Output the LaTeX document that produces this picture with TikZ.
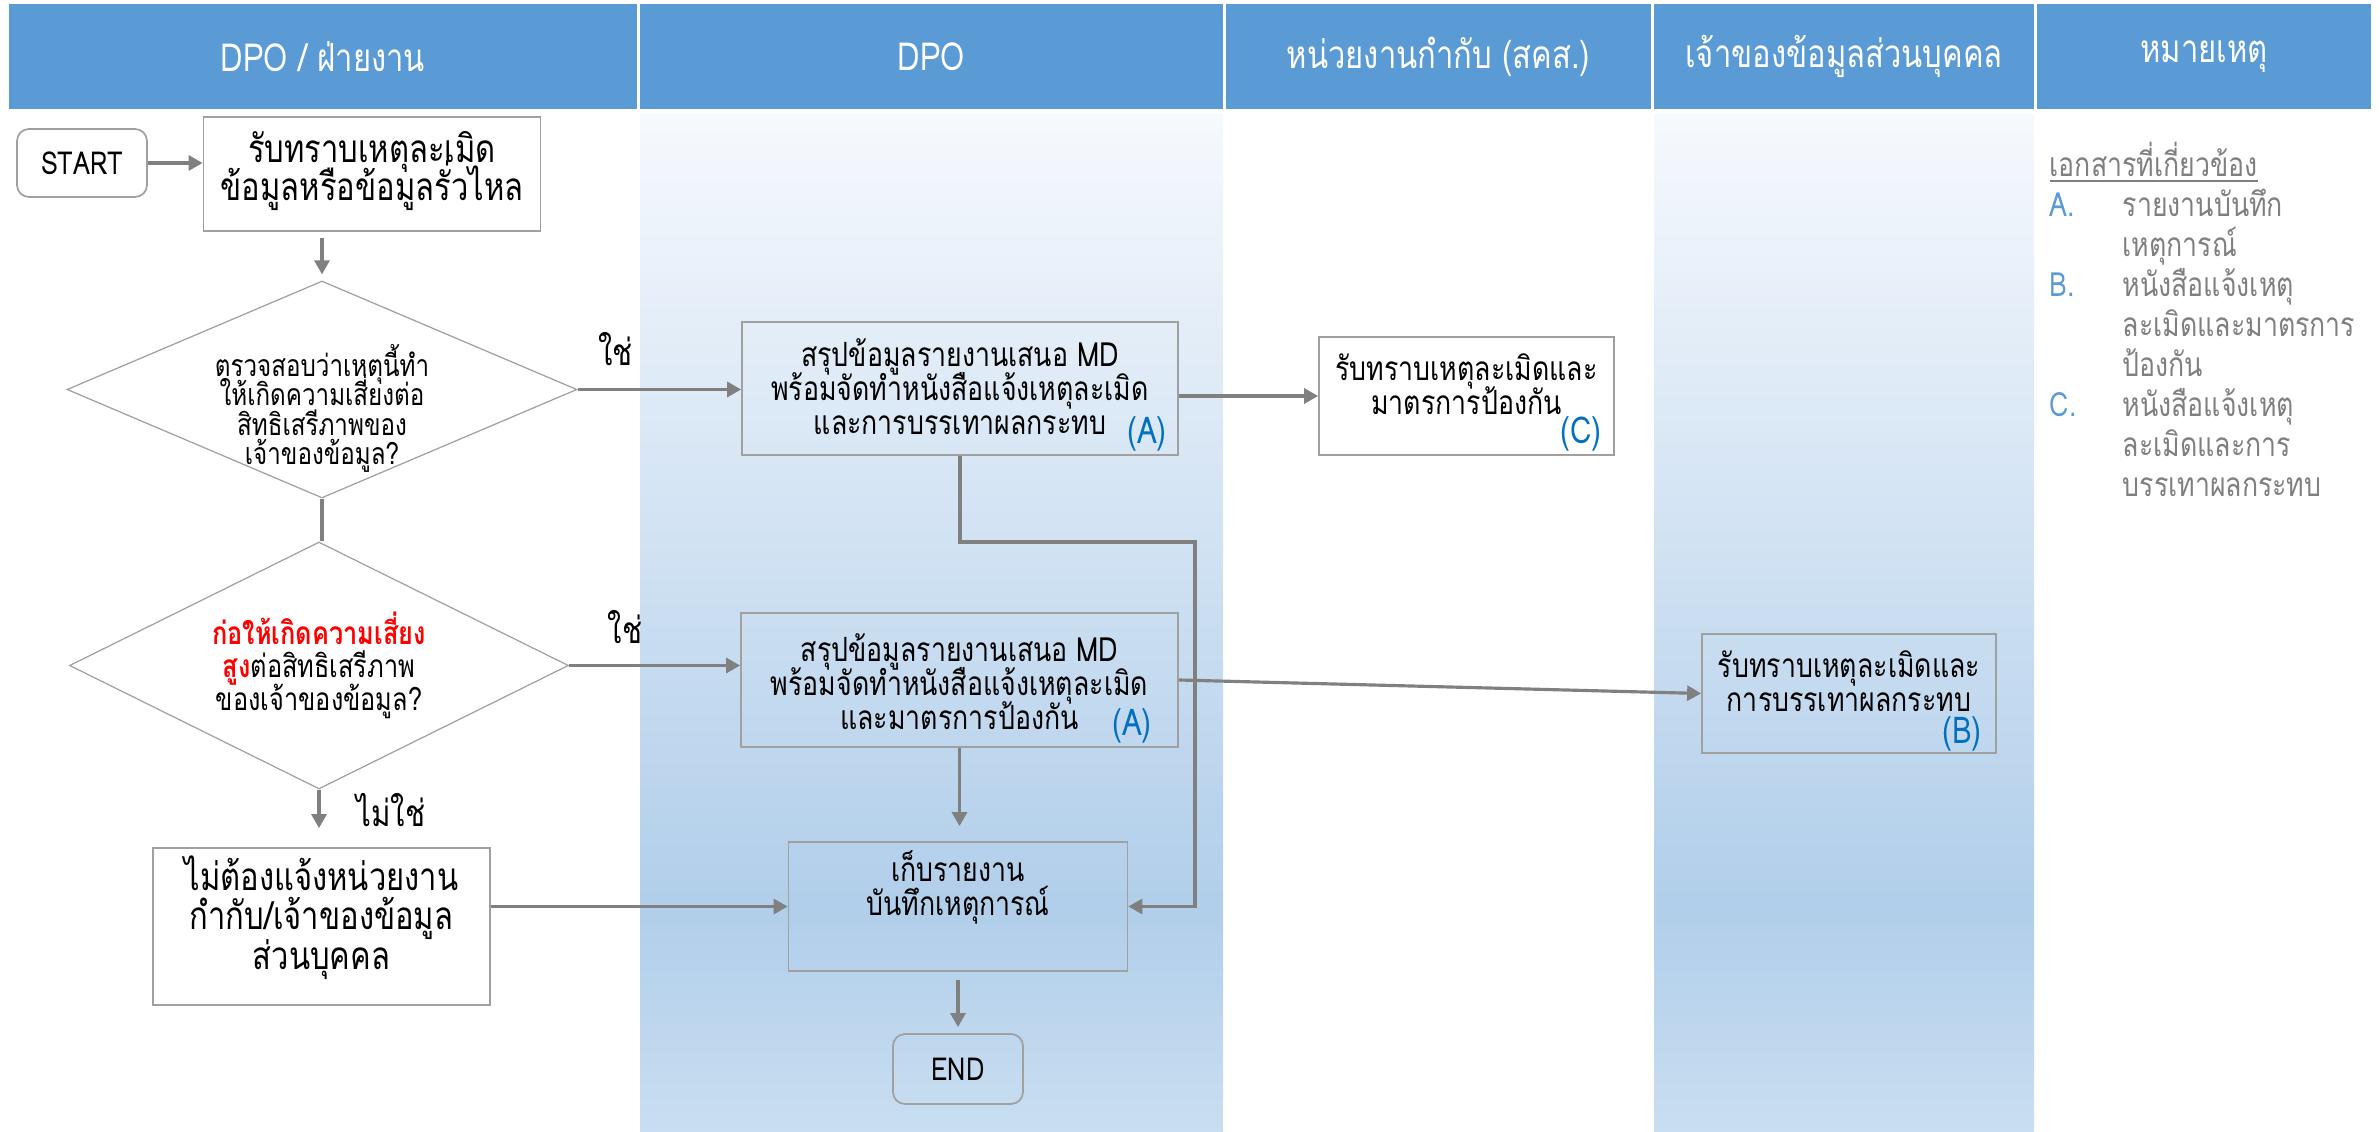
\documentclass[tikz,border=0pt]{standalone}
\usepackage{fontspec}
\setmainfont[Script=Thai]{Loma}
\newfontfamily\narrowfont[Script=Thai,FakeStretch=0.8]{Loma}
\usepackage{xcolor}
\usetikzlibrary{calc,arrows.meta,shapes.geometric}

\definecolor{headblue}{HTML}{5B9BD5}
\definecolor{flowgray}{HTML}{808080}
\definecolor{edgegray}{HTML}{A0A0A0}
\definecolor{notegray}{HTML}{7F7F7F}
\definecolor{tagblue}{HTML}{0070C0}
\definecolor{lanetop}{HTML}{F6F9FD}
\definecolor{lanedeep}{HTML}{B1CEEA}
\definecolor{lanefoot}{HTML}{C9DEF1}
\pgfdeclareverticalshading{lanefade}{100bp}{color(0bp)=(lanefoot); color(25bp)=(lanefoot); color(36bp)=(lanedeep); color(75bp)=(lanetop); color(100bp)=(lanetop)}
\newcommand{\doclabel}[1]{\makebox[0.73cm][l]{\textcolor{headblue}{#1}}}
\AtBeginDocument{\lineskiplimit=-20pt}

\begin{document}
\begin{tikzpicture}
% Swimlane flow for a personal data breach.

% This determines how the boxes and arrows will look.
\tikzstyle{head}=[fill=headblue,text=white,minimum height=1.05cm,inner sep=0pt,font=\narrowfont\fontsize{11}{12}\selectfont]
\tikzstyle{flowbox}=[draw=edgegray,line width=0.5pt,inner sep=0pt]
\tikzstyle{terminal}=[flowbox,rounded corners=0.12cm,font=\narrowfont\fontsize{9}{10}\selectfont]
\tikzstyle{decision}=[diamond,draw=edgegray,line width=0.35pt,inner sep=0pt]
\tikzstyle{boxtext}=[align=center,inner sep=0pt,font=\narrowfont\fontsize{9.5}{9.7}\selectfont]
\tikzstyle{bigtext}=[boxtext,font=\narrowfont\fontsize{11}{10.8}\selectfont]
\tikzstyle{tag}=[text=tagblue,inner sep=0pt,font=\narrowfont\fontsize{10.5}{11}\selectfont]
\tikzstyle{answer}=[inner sep=0pt,font=\narrowfont\fontsize{10.5}{11}\selectfont]
\tikzstyle{flow}=[draw=flowgray,line width=0.9pt,-{Triangle[length=0.14cm,width=0.15cm]}]
\tikzstyle{link}=[draw=flowgray,line width=0.9pt]
\tikzstyle{notes}=[text=notegray,align=left,inner sep=0pt,font=\narrowfont\fontsize{9.5}{11.4}\selectfont]

\useasboundingbox (0,0) rectangle (23.8,-11.32);

% This draws the header row.
\node[head,minimum width=6.28cm] (hunit) at (3.23,-0.565) {DPO / ฝ่ายงาน};
\node[head,minimum width=5.83cm] (hdpo) at (9.315,-0.565) {DPO};
\node[head,minimum width=4.25cm] (hreg) at (14.385,-0.565) {หน่วยงานกำกับ (สคส.)};
\node[head,minimum width=3.80cm] (howner) at (18.44,-0.565) {เจ้าของข้อมูลส่วนบุคคล};
\node[head,minimum width=3.34cm] (hnote) at (22.04,-0.565) {หมายเหตุ};

% This draws the shaded lanes.
\shade[shading=lanefade] (6.40,-1.15) rectangle (12.23,-11.32);
\shade[shading=lanefade] (16.54,-1.15) rectangle (20.34,-11.32);

% This draws the left lane.
\node[terminal,minimum width=1.30cm,minimum height=0.68cm] (start) at (0.82,-1.63) {START};
\node[flowbox,minimum width=3.37cm,minimum height=1.14cm] (intake) at (3.72,-1.74) {};
\node[bigtext] (intaketext) at ($(intake)+(0,0.03)$) {รับทราบเหตุละเมิด\\ข้อมูลหรือข้อมูลรั่วไหล};
\node[decision,minimum width=5.10cm,minimum height=2.17cm] (check1) at (3.22,-3.895) {};
\node[boxtext,font=\narrowfont\fontsize{8.6}{8.3}\selectfont] (check1text) at ($(check1)+(0,-0.19)$) {ตรวจสอบว่าเหตุนี้ทำ\\ให้เกิดความเสี่ยงต่อ\\สิทธิเสรีภาพของ\\เจ้าของข้อมูล?};
\node[decision,minimum width=4.99cm,minimum height=2.47cm] (check2) at (3.19,-6.655) {};
\node[boxtext,font=\narrowfont\fontsize{9}{9.4}\selectfont] (check2text) at (check2) {\textcolor{red}{\bfseries ก่อให้เกิดความเสี่ยง}\\\textcolor{red}{\bfseries สูง}ต่อสิทธิเสรีภาพ\\ของเจ้าของข้อมูล?};
\node[flowbox,minimum width=3.37cm,minimum height=1.57cm] (nonotify) at (3.215,-9.265) {};
\node[bigtext,font=\narrowfont\fontsize{11}{11.2}\selectfont] (nonotifytext) at ($(nonotify)+(0,0.09)$) {ไม่ต้องแจ้งหน่วยงาน\\กำกับ/เจ้าของข้อมูล\\ส่วนบุคคล};

% This draws the DPO lane.
\node[flowbox,minimum width=4.36cm,minimum height=1.33cm] (summary1) at (9.60,-3.885) {};
\node[boxtext] (summary1text) at ($(summary1)+(0,0.02)$) {สรุปข้อมูลรายงานเสนอ MD\\พร้อมจัดทำหนังสือแจ้งเหตุละเมิด\\และการบรรเทาผลกระทบ};
\node[tag] (tag1) at ($(summary1.south east)+(-0.32,0.22)$) {(A)};
\node[flowbox,minimum width=4.37cm,minimum height=1.34cm] (summary2) at (9.595,-6.80) {};
\node[boxtext] (summary2text) at ($(summary2)+(0,-0.02)$) {สรุปข้อมูลรายงานเสนอ MD\\พร้อมจัดทำหนังสือแจ้งเหตุละเมิด\\และมาตรการป้องกัน};
\node[tag] (tag2) at ($(summary2.south east)+(-0.47,0.22)$) {(A)};
\node[flowbox,minimum width=3.39cm,minimum height=1.29cm] (store) at (9.58,-9.065) {};
\node[boxtext] (storetext) at ($(store)+(0,0.195)$) {เก็บรายงาน\\บันทึกเหตุการณ์};
\node[terminal,minimum width=1.30cm,minimum height=0.70cm] (finish) at (9.58,-10.69) {END};

% This draws the regulator and data owner boxes.
\node[flowbox,minimum width=2.95cm,minimum height=1.18cm] (ackC) at (14.665,-3.96) {};
\node[boxtext] (ackCtext) at ($(ackC)+(0,0.12)$) {รับทราบเหตุละเมิดและ\\มาตรการป้องกัน};
\node[tag] (tag3) at ($(ackC.south east)+(-0.34,0.22)$) {(C)};
\node[flowbox,minimum width=2.94cm,minimum height=1.19cm] (ackB) at (18.49,-6.935) {};
\node[boxtext] (ackBtext) at ($(ackB)+(0,0.12)$) {รับทราบเหตุละเมิดและ\\การบรรเทาผลกระทบ};
\node[tag] (tag4) at ($(ackB.south east)+(-0.35,0.20)$) {(B)};

% This draws the answers.
\node[answer] (yes1) at ($(check1.east)+(0.38,0.40)$) {ใช่};
\node[answer] (yes2) at ($(check2.east)+(0.56,0.385)$) {ใช่};
\node[answer] (no2) at ($(check2.south)+(0.72,-0.20)$) {ไม่ใช่};

% This draws the arrows.
\draw[flow] (start.east) -- (intake.west |- start.east);
\draw[flow,shorten <=0.06cm,shorten >=0.06cm] (intake.south -| check1.north) -- (check1.north);
\draw[flow] (check1.east) -- (summary1.west |- check1.east);
\draw[flow] (summary1.east |- ackC.west) -- (ackC.west);
\draw[link] (check1.south) -- (check1.south |- check2.north);
\draw[flow] (check2.east) -- (check2.east -| summary2.west);
\draw[flow] (summary2.east) -- (ackB.west);
\coordinate (bend) at (11.95,-5.42);
\draw[flow] (summary1.south) |- (bend) |- (store.east);
\draw[flow,shorten >=0.15cm] (summary2.south) -- (summary2.south |- store.north);
\draw[flow,shorten >=0.19cm] (check2.south) -- (check2.south |- nonotify.north);
\draw[flow] (nonotify.east |- store.west) -- (store.west);
\draw[flow,shorten <=0.08cm,shorten >=0.06cm] (store.south) -- (finish.north);

% This draws the list of documents.
\node[notes,anchor=north west] (docs) at (20.49,-1.41) {\underline{เอกสารที่เกี่ยวข้อง}\\
\doclabel{A.}รายงานบันทึก\\
\doclabel{}เหตุการณ์\\
\doclabel{B.}หนังสือแจ้งเหตุ\\
\doclabel{}ละเมิดและมาตรการ\\
\doclabel{}ป้องกัน\\
\doclabel{C.}หนังสือแจ้งเหตุ\\
\doclabel{}ละเมิดและการ\\
\doclabel{}บรรเทาผลกระทบ};
\end{tikzpicture}
\end{document}
